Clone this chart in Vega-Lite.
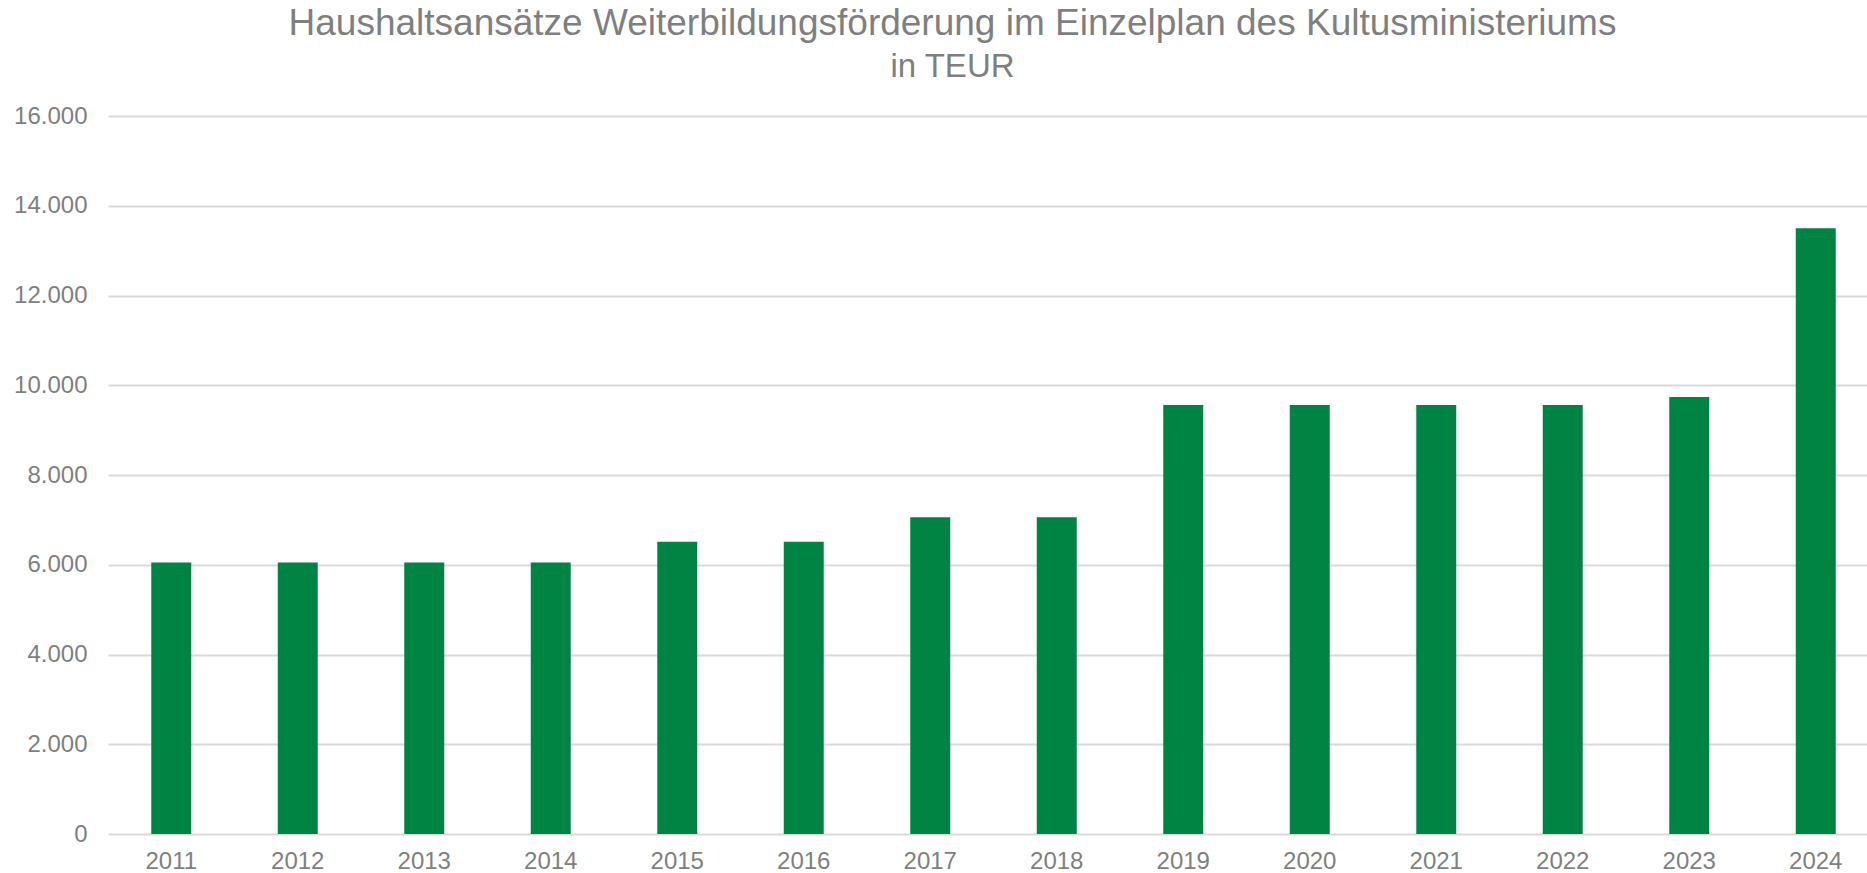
{
  "$schema": "https://vega.github.io/schema/vega-lite/v6.json",
  "autosize": {"type": "none"},
  "width": 1759,
  "height": 718,
  "padding": {"left": 108, "top": 116, "right": 0, "bottom": 39},
  "background": "white",
  "title": {
    "text": "Haushaltsansätze Weiterbildungsförderung im Einzelplan des Kultusministeriums",
    "subtitle": "in TEUR",
    "anchor": "middle",
    "frame": "group",
    "dx": -35,
    "font": "Liberation Sans",
    "fontSize": 37,
    "fontWeight": "normal",
    "color": "#7f7f7f",
    "subtitleFont": "Liberation Sans",
    "subtitleFontSize": 33,
    "subtitleColor": "#7f7f7f",
    "subtitlePadding": 8,
    "offset": 19
  },
  "data": {
    "values": [
      {"Jahr": "2011", "Wert": 6050},
      {"Jahr": "2012", "Wert": 6050},
      {"Jahr": "2013", "Wert": 6050},
      {"Jahr": "2014", "Wert": 6050},
      {"Jahr": "2015", "Wert": 6510},
      {"Jahr": "2016", "Wert": 6510},
      {"Jahr": "2017", "Wert": 7060},
      {"Jahr": "2018", "Wert": 7060},
      {"Jahr": "2019", "Wert": 9560},
      {"Jahr": "2020", "Wert": 9560},
      {"Jahr": "2021", "Wert": 9560},
      {"Jahr": "2022", "Wert": 9560},
      {"Jahr": "2023", "Wert": 9740},
      {"Jahr": "2024", "Wert": 13500}
    ]
  },
  "mark": {"type": "bar", "color": "#008444"},
  "encoding": {
    "x": {
      "field": "Jahr",
      "type": "nominal",
      "sort": null,
      "scale": {"range": [0, 1771], "paddingInner": 0.684, "paddingOuter": 0.342},
      "axis": {
        "title": null,
        "labelAngle": 0,
        "labelFont": "Liberation Sans",
        "labelFontSize": 24,
        "labelColor": "#7f7f7f",
        "labelPadding": 15,
        "ticks": false,
        "domain": false,
        "grid": false
      }
    },
    "y": {
      "field": "Wert",
      "type": "quantitative",
      "scale": {"domain": [0, 16000], "nice": false},
      "axis": {
        "title": null,
        "values": [0, 2000, 4000, 6000, 8000, 10000, 12000, 14000, 16000],
        "labelExpr": "replace(format(datum.value, ','), ',', '.')",
        "labelFont": "Liberation Sans",
        "labelFontSize": 24,
        "labelColor": "#7f7f7f",
        "labelPadding": 21,
        "ticks": false,
        "domain": false,
        "grid": true,
        "gridColor": "#d9d9d9",
        "gridWidth": 2
      }
    }
  },
  "config": {"view": {"stroke": null}}
}
